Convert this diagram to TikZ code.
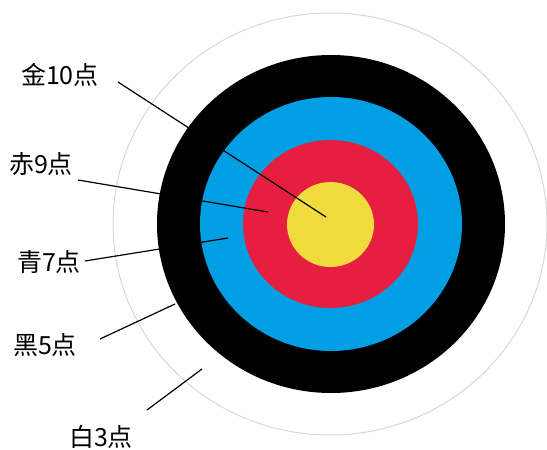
\documentclass[tikz,border=0pt]{standalone}
\usepackage{fontspec}
\newfontfamily\cjk{Noto Sans CJK SC}
\definecolor{ringblue}{RGB}{0,159,227}
\definecolor{ringred}{RGB}{230,30,64}
\definecolor{ringyellow}{RGB}{239,220,60}
\definecolor{ringgray}{RGB}{215,215,215}
\tikzset{
  lbl/.style={inner sep=0pt, font=\cjk\fontsize{25}{30}\selectfont},
  leader/.style={draw=black, line width=1.2pt},
}
\begin{document}
\begin{tikzpicture}[x=1pt,y=-1pt]
\useasboundingbox (0,0) rectangle (547,450);
% rings
\draw[ringgray, line width=1pt] (330,224) ellipse [x radius=217pt, y radius=211pt];
\fill[black] (331,224) ellipse [x radius=174pt, y radius=169pt];
\fill[ringblue] (331,224) ellipse [x radius=131pt, y radius=127pt];
\fill[ringred] (330.5,224) ellipse [x radius=87.5pt, y radius=84pt];
\fill[ringyellow] (330.5,224.5) ellipse [x radius=43.5pt, y radius=42.5pt];
% labels
\node[lbl] (gold)  at (60,75)   {金10点};
\node[lbl] (red)   at (41,164)  {赤9点};
\node[lbl] (blue)  at (49,262)  {青7点};
\node[lbl] (black) at (45,345)  {黑5点};
\node[lbl] (white) at (101,437) {白3点};
% leader ends
\coordinate (g1) at (118,82);  \coordinate (g2) at (326,217);
\coordinate (r1) at (78,180);  \coordinate (r2) at (268,212);
\coordinate (b1) at (85,261);  \coordinate (b2) at (228,238);
\coordinate (k1) at (100,339); \coordinate (k2) at (175,304);
\coordinate (w1) at (147,410); \coordinate (w2) at (202,369);
\draw[leader] (g1) -- (g2);
\draw[leader] (r1) -- (r2);
\draw[leader] (b1) -- (b2);
\draw[leader] (k1) -- (k2);
\draw[leader] (w1) -- (w2);
\end{tikzpicture}
\end{document}
